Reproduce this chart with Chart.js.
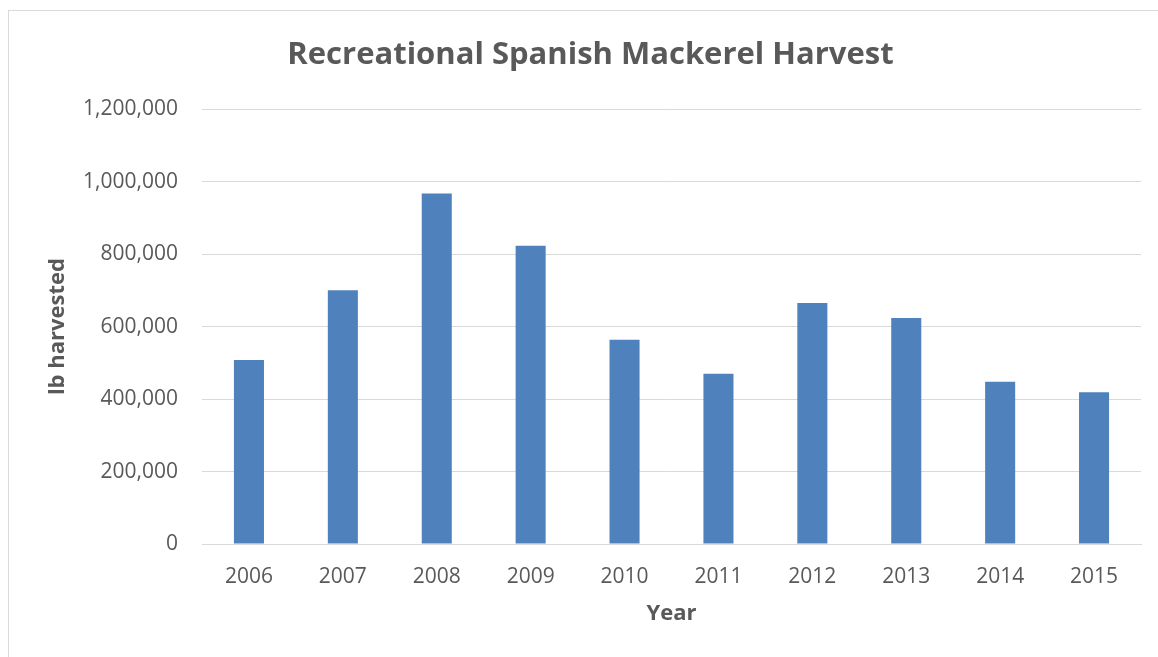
<!DOCTYPE html>
<html>
<head>
<meta charset="utf-8">
<script src="https://cdn.jsdelivr.net/npm/chart.js@4/dist/chart.umd.min.js"></script>
<style>
	body { margin: 0; background: #fff; }
	#frame {
		position: absolute; left: 8px; top: 10px;
		width: 1160px; height: 660px;
		border: 1px solid #d9d9d9; box-sizing: border-box;
	}
	#wrap { position: absolute; left: 0; top: 0; width: 1158px; height: 657px; }
</style>
</head>
<body>
<div id="frame"></div>
<div id="wrap"><canvas id="graficoMackerel"></canvas></div>
<script>
var anos = ['2006', '2007', '2008', '2009', '2010', '2011', '2012', '2013', '2014', '2015']
var librasColhidas = [508000, 700000, 967000, 823000, 564000, 470000, 665000, 624000, 448000, 419000]
var ticksY = [0, 200000, 400000, 600000, 800000, 1000000, 1200000]

var corTexto = '#595959'
var corGrade = '#d9d9d9'
var fonte = "'Open Sans', 'Liberation Sans', sans-serif"

var configChart = {
	type: 'bar',
	data: {
		labels: anos,
		datasets: [{
			data: librasColhidas,
			backgroundColor: '#4f81bd',
			borderWidth: 0,
			categoryPercentage: 1,
			barPercentage: 0.32,
		}]
	},
	options: {
		responsive: true,
		maintainAspectRatio: false,
		animation: false,
		layout: {
			padding: { left: 40, right: 17, top: 0, bottom: 0 }
		},
		plugins: {
			legend: { display: false },
			tooltip: { enabled: false },
			title: {
				display: true,
				text: 'Recreational Spanish Mackerel Harvest',
				color: corTexto,
				font: { family: fonte, size: 31, weight: 'bold', lineHeight: 1.2 },
				padding: { top: 37, bottom: 35 },
			},
		},
		scales: {
			x: {
				grid: { display: false },
				border: { display: true, color: corGrade, width: 1 },
				ticks: {
					color: corTexto,
					font: { family: fonte, size: 21 },
					padding: 12,
					maxRotation: 0,
				},
				title: {
					display: true,
					text: 'Year',
					color: corTexto,
					font: { family: fonte, size: 22, weight: 'bold', lineHeight: 1.2 },
					padding: { top: 0, bottom: 30 },
				},
				afterFit: function (scale) { scale.height = 113 },
			},
			y: {
				min: 0,
				max: 1200000,
				afterBuildTicks: function (scale) {
					scale.ticks = ticksY.map(function (v) { return { value: v } })
				},
				grid: { color: corGrade, lineWidth: 1, drawTicks: false },
				border: { display: false },
				ticks: {
					color: corTexto,
					font: { family: fonte, size: 21 },
					padding: 24,
					callback: function (v) { return v.toLocaleString('en-US') },
				},
				title: {
					display: true,
					text: 'lb harvested',
					color: corTexto,
					font: { family: fonte, size: 22, weight: 'bold', lineHeight: 1.2 },
					padding: { top: 5, bottom: 0 },
				},
				afterFit: function (scale) { scale.width = 162 },
			},
		},
	},
};

var ctx = document.getElementById('graficoMackerel').getContext('2d');
window.meuGrafico = new Chart(ctx, configChart);
</script>
</body>
</html>
